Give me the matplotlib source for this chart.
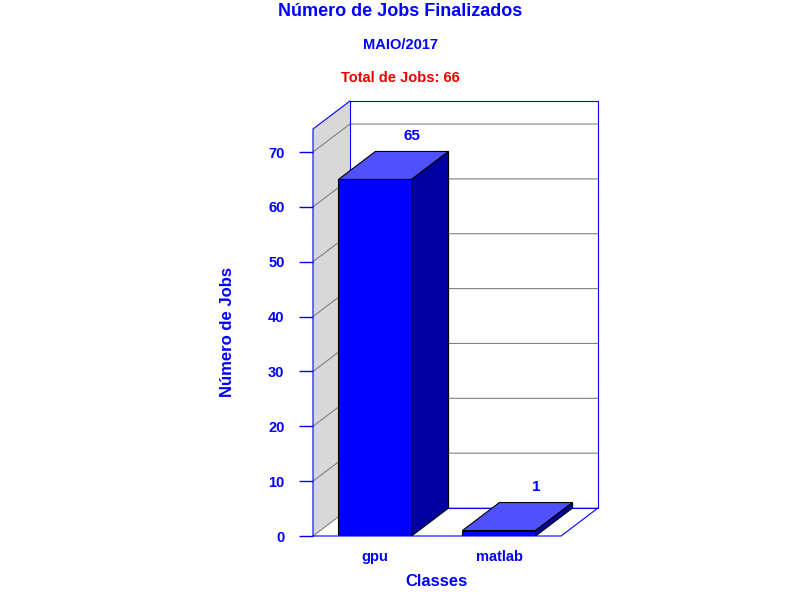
import matplotlib
matplotlib.use("Agg")
import matplotlib.pyplot as plt
from matplotlib.patches import Polygon

plt.rcParams['font.family'] = ['Liberation Sans', 'DejaVu Sans']
plt.rcParams['font.weight'] = 'bold'

# data
classes = ['gpu', 'matlab']
jobs = [65, 1]
yticks = [0, 10, 20, 30, 40, 50, 60, 70]
total = sum(jobs)

BLUE = '#0000FF'
TOP = '#5050FF'
SIDE = '#0000A0'

# 3d depth in data units
dx, dy = 0.298, 5.1
ytop = 74.2
bw = 0.59

fig = plt.figure(figsize=(8, 6), dpi=100)
ax = fig.add_axes([313 / 800, 64 / 600, 285 / 800, 435 / 600])
ax.set_xlim(-0.5, 1.5 + dx)
ax.set_ylim(0, ytop + dy)
for s in ax.spines.values():
    s.set_visible(False)

x0, x1 = -0.5, 1.5
# left wall
ax.add_patch(Polygon([(x0, 0), (x0 + dx, dy), (x0 + dx, ytop + dy), (x0, ytop)],
                     closed=True, fc='#D8D8D8', ec='none', zorder=0))
# grid lines on left and back wall
for t in yticks:
    ax.plot([x0, x0 + dx, x1 + dx], [t, t + dy, t + dy], color='#808080', lw=0.8, zorder=1)
# borders
ax.plot([x0 + dx, x1 + dx, x1 + dx, x0 + dx, x0 + dx], [dy, dy, ytop + dy, ytop + dy, dy],
        color=BLUE, lw=0.8, zorder=2, clip_on=False)
ax.plot([x0, x0, x0 + dx], [0, ytop, ytop + dy], color=BLUE, lw=0.8, zorder=2, clip_on=False)
ax.plot([x0, x1, x1 + dx], [0, 0, dy], color=BLUE, lw=0.8, zorder=2, clip_on=False)

# bars
xs = list(range(len(classes)))
ax.bar(xs, jobs, width=bw, color=BLUE, edgecolor='black', lw=0.8, zorder=3)
for x, v in zip(xs, jobs):
    l, r = x - bw / 2, x + bw / 2
    ax.add_patch(Polygon([(l, v), (l + dx, v + dy), (r + dx, v + dy), (r, v)],
                         closed=True, fc=TOP, ec='black', lw=0.8, zorder=3))
    ax.add_patch(Polygon([(r, 0), (r + dx, dy), (r + dx, v + dy), (r, v)],
                         closed=True, fc=SIDE, ec='black', lw=0.8, zorder=3))
    ax.annotate(str(v), (x + dx, v + dy), xytext=(0, 6), textcoords='offset points',
                ha='center', va='bottom', color=BLUE, fontsize=11, fontweight='bold')

ax.set_yticks(yticks)
ax.set_xticks(xs)
ax.set_xticklabels(classes)
ax.tick_params(axis='y', colors=BLUE, length=10, width=1, labelsize=10.5, pad=10.5)
ax.tick_params(axis='x', colors=BLUE, length=0, labelsize=10.5, pad=10)

fig.text(228 / 800, 1 - 332 / 600, 'Número de Jobs', ha='center', va='center', rotation=90,
         color=BLUE, fontsize=12, fontweight='bold')
fig.text(437 / 800, 1 - 582 / 600, 'Classes', ha='center', va='center',
         color=BLUE, fontsize=12, fontweight='bold')
fig.text(400 / 800, 1 - 11 / 600, 'Número de Jobs Finalizados', ha='center', va='center',
         color=BLUE, fontsize=13, fontweight='bold')
fig.text(400 / 800, 1 - 45 / 600, 'MAIO/2017', ha='center', va='center',
         color=BLUE, fontsize=10.5, fontweight='bold')
fig.text(400 / 800, 1 - 78 / 600, 'Total de Jobs: %d' % total, ha='center', va='center',
         color='#EE0000', fontsize=10.5, fontweight='bold')

fig.savefig('out.png', dpi=100)
